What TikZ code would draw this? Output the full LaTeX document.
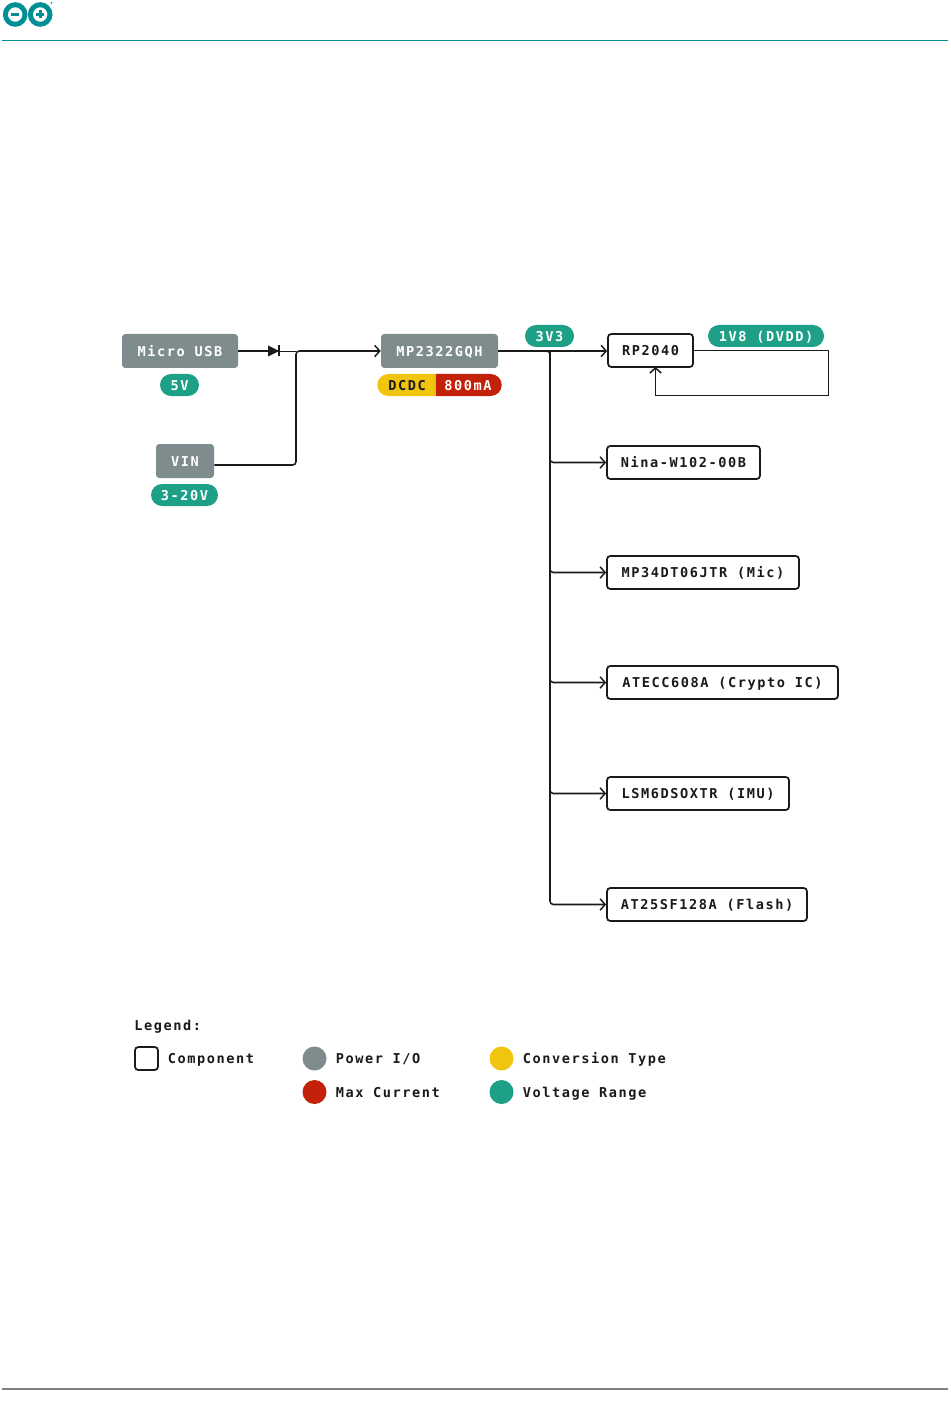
\documentclass[tikz,border=0pt]{standalone}
\usepackage{fontspec}
\setmainfont{DejaVu Sans Mono}[LetterSpace=11.5]
\usetikzlibrary{arrows.meta, shapes.misc}

\definecolor{powergray}{HTML}{7F8C8D}
\definecolor{rangeteal}{HTML}{1DA086}
\definecolor{convyellow}{HTML}{F1C40F}
\definecolor{maxred}{HTML}{C4210B}
\definecolor{logoteal}{HTML}{008F95}
\definecolor{inkblack}{HTML}{1A1A1A}

\def\px{0.75pt}

\tikzset{
  label/.style={font=\fontsize{10.2pt}{12pt}\bfseries, text=inkblack, inner sep=0pt, text height=8.2pt, text depth=0pt},
  partbox/.style={label, draw=inkblack, fill=white, line width=1.3pt, rounded corners=2.5pt, minimum height=33*\px},
  powerbox/.style={label, fill=powergray, text=white, rounded corners=2.5pt, minimum height=34*\px},
  pill/.style={label, rounded rectangle, text=white, minimum height=22*\px},
  dot/.style={circle, inner sep=0pt, minimum size=24*\px},
  feed/.style={draw=inkblack, line width=1.15pt, rounded corners=2.5pt},
  tip/.style={-{Straight Barb[length=3.8pt, width=8.5pt, line width=1.1pt]}},
}

\begin{document}
\begin{tikzpicture}[x=0.75pt, y=-0.75pt]
  \useasboundingbox (0,0) rectangle (950,1408);

  % page furniture
  \coordinate (topl) at (2,40.5);
  \coordinate (topr) at (948,40.5);
  \coordinate (botl) at (2,1389);
  \coordinate (botr) at (948,1389);
  \draw[logoteal, line width=0.8pt] (topl) -- (topr);
  \draw[gray, line width=0.8pt] (botl) -- (botr);
  \draw[logoteal, line width=3.7pt] (15.2,14.5) circle (9.8);
  \draw[logoteal, line width=3.7pt] (40.2,14.5) circle (9.8);
  \fill[logoteal] (11,13.2) rectangle (19,15.8);
  \fill[logoteal] (36.2,13.2) rectangle (44.2,15.8);
  \fill[logoteal] (38.9,10.5) rectangle (41.5,18.5);
  \fill[logoteal] (51.5,3) circle (1);

  % power side
  \node[powerbox, minimum width=116*\px] (usb) at (180,351) {Micro USB};
  \node[pill, fill=rangeteal, minimum width=39*\px] (usbv) at (179.5,385) {5V};
  \node[powerbox, minimum width=58*\px] (vin) at (185,461) {VIN};
  \node[pill, fill=rangeteal, minimum width=67*\px] (vinv) at (184.5,495) {3-20V};
  \node[powerbox, minimum width=117*\px] (mp) at (439.5,351) {MP2322GQH};
  \node[pill, fill=convyellow, text=inkblack, minimum width=58*\px, rounded rectangle right arc=none] (dcdc) at (407,385) {DCDC};
  \node[pill, fill=maxred, minimum width=66*\px, rounded rectangle left arc=none] (imax) at (468,385) {800mA};
  \node[pill, fill=rangeteal, minimum width=49*\px] (rail) at (549.5,336) {3V3};
  \node[pill, fill=rangeteal, minimum width=116*\px] (dvdd) at (766,336) {1V8 (DVDD)};

  % components
  \node[partbox, minimum width=85*\px] (rp) at (650.5,350.5) {RP2040};
  \node[partbox, minimum width=153*\px] (nina) at (683.5,462.5) {Nina-W102-00B};
  \node[partbox, minimum width=192*\px] (mic) at (703,572.5) {MP34DT06JTR (Mic)};
  \node[partbox, minimum width=231*\px] (crypto) at (722.5,682.5) {ATECC608A (Crypto IC)};
  \node[partbox, minimum width=182*\px] (imu) at (698,793.5) {LSM6DSOXTR (IMU)};
  \node[partbox, minimum width=200*\px] (flash) at (707,904.5) {AT25SF128A (Flash)};

  \coordinate (diode) at (268,351);
  \coordinate (merge) at (296,351);
  \coordinate (bustop) at (550,351);
  \coordinate (loopr) at (828.5,395.5);
  \coordinate (rpin) at (655.5,367);

  % connectors
  \draw[feed] (usb.east) -- (diode);
  \fill[inkblack] (268,345.5) -- (279,351) -- (268,356.5) -- cycle;
  \draw[inkblack, line width=1pt] (279,345.5) -- (279,356.5);
  \draw[feed, line width=0.6pt] (diode) -- (merge);
  \draw[feed, tip] ([yshift=-3pt]vin.east) -| (merge) -- (mp.west);
  \draw[feed, tip] (mp.east) -- (mp.east -| rp.west);
  \draw[feed, tip] (mp.east) -- (bustop) |- (flash.west);
  \draw[feed, tip] (bustop) |- (nina.west);
  \draw[feed, tip] (bustop) |- (mic.west);
  \draw[feed, tip] (bustop) |- (crypto.west);
  \draw[feed, tip] (bustop) |- (imu.west);
  \draw[inkblack, line width=0.75pt] (rp.east) -| (loopr) -- (loopr -| rpin);
  \draw[inkblack, line width=0.8pt, tip] (loopr -| rpin) -- (rpin);

  % legend
  \node[label, anchor=west] (legend) at (134,1025.5) {Legend:};
  \node[partbox, minimum width=23*\px, minimum height=23*\px] (lpart) at (146.5,1058.5) {};
  \node[label, anchor=west] (lparttxt) at (167.5,1058) {Component};
  \node[dot, fill=powergray] (lpower) at (314.5,1058.5) {};
  \node[label, anchor=west] (lpowertxt) at (335.5,1058) {Power I/O};
  \node[dot, fill=maxred] (lmax) at (314.5,1092) {};
  \node[label, anchor=west] (lmaxtxt) at (335.5,1092) {Max Current};
  \node[dot, fill=convyellow] (lconv) at (501.5,1058.5) {};
  \node[label, anchor=west] (lconvtxt) at (522.5,1058) {Conversion Type};
  \node[dot, fill=rangeteal] (lrange) at (501.5,1092) {};
  \node[label, anchor=west] (lrangetxt) at (522.5,1092) {Voltage Range};
\end{tikzpicture}
\end{document}
